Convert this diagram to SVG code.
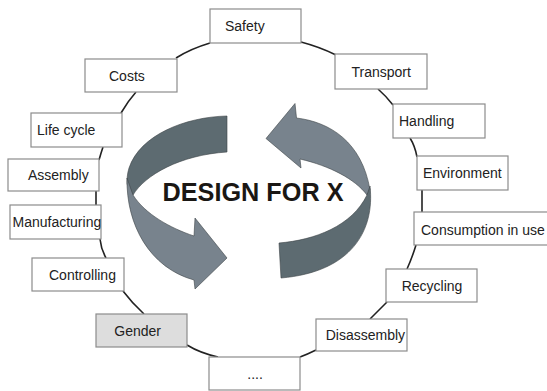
<svg xmlns="http://www.w3.org/2000/svg" width="547" height="391" viewBox="0 0 547 391">
<style>
.box{fill:#ffffff;stroke:#8c8c8c;stroke-width:1.2}
.g{fill:#dddddd}
.t{font-family:"Liberation Sans",Arial,sans-serif;font-size:14px;fill:#222222}
.c{fill:none;stroke:#222222;stroke-width:1.6}
.dk{fill:#5d6b71;stroke:#3c4347;stroke-width:0.6}
.lt{fill:#78838d;stroke:#3c4347;stroke-width:0.6}
</style>
<rect width="547" height="391" fill="#ffffff"/>
<g id="connectors">
<path class="c" d="M176,58 Q190,49 210,43"/>
<path class="c" d="M301,42 Q320,47 336,55"/>
<path class="c" d="M378,89 Q386,96 393,105"/>
<path class="c" d="M410,138 Q415,146 417,157"/>
<path class="c" d="M422,190 L422,212"/>
<path class="c" d="M416,245 Q412,258 407,269"/>
<path class="c" d="M387,302 Q378,311 370,319"/>
<path class="c" d="M316,350 Q308,354 300,357"/>
<path class="c" d="M218,357 Q200,353 187,345"/>
<path class="c" d="M144,314 Q132,303 123,291"/>
<path class="c" d="M106,258 Q101,249 100,239"/>
<path class="c" d="M96,205 L96,191"/>
<path class="c" d="M99,160 Q101,153 103,147"/>
<path class="c" d="M121,113 Q128,101 136,92"/>
</g>
<g id="cycle">
<path class="dk" d="M227,116 C185,117 140,135 129,168 C127,174 127,180 127,184 L133,195 C145,175 180,155 227,152 Z"/>
<path class="lt" d="M295,103.5 L296.5,118 C330,122 362,142 370,190 L367,195 C355,179 330,166 300,159 L301,168 L266,138.5 Z"/>
<path class="lt" d="M127,178 C126,225 150,268 194,280 L195,289 L227,258 L195,218 L194,236 C170,228 145,214 133,195 Z"/>
<path class="dk" d="M370,186 C375,230 352,272 281,278 L279,243 C315,240 352,226 367,195 Z"/>
<text x="253" y="201" text-anchor="middle" font-family="'Liberation Sans',Arial,sans-serif" font-weight="bold" font-size="26.5" fill="#1a1714" textLength="181" lengthAdjust="spacingAndGlyphs">DESIGN FOR X</text>
</g>
<g id="safety"><rect class="box" x="210" y="9" width="91" height="34"/><text class="t" x="225" y="31">Safety</text></g>
<g id="costs"><rect class="box" x="85" y="59" width="92" height="33"/><text class="t" x="109" y="80.5">Costs</text></g>
<g id="transport"><rect class="box" x="335" y="54" width="92" height="35"/><text class="t" x="351.5" y="76.5">Transport</text></g>
<g id="lifecycle"><rect class="box" x="31" y="113" width="91" height="34"/><text class="t" x="37" y="135">Life cycle</text></g>
<g id="handling"><rect class="box" x="393" y="104" width="92" height="34"/><text class="t" x="399" y="126">Handling</text></g>
<g id="assembly"><rect class="box" x="8" y="159" width="91" height="32"/><text class="t" x="28" y="180">Assembly</text></g>
<g id="environment"><rect class="box" x="417" y="156" width="91" height="34"/><text class="t" x="423" y="178">Environment</text></g>
<g id="manufacturing"><rect class="box" x="10" y="205" width="91" height="34"/><text class="t" x="12.5" y="227">Manufacturing</text></g>
<g id="consumption"><rect class="box" x="414" y="212" width="140" height="33"/><text class="t" x="421" y="234.5">Consumption in use</text></g>
<g id="controlling"><rect class="box" x="32" y="258" width="92" height="33"/><text class="t" x="49" y="280">Controlling</text></g>
<g id="recycling"><rect class="box" x="386" y="269" width="91" height="33"/><text class="t" x="401.7" y="291">Recycling</text></g>
<g id="gender"><rect class="box g" x="96" y="314" width="91" height="33"/><text class="t" x="114.3" y="335.5">Gender</text></g>
<g id="disassembly"><rect class="box" x="316" y="319" width="91" height="32"/><text class="t" x="325.7" y="340">Disassembly</text></g>
<g id="more"><rect class="box" x="209" y="357" width="91" height="33"/><text class="t" x="247.3" y="379" fill="#555555">....</text></g>
</svg>
